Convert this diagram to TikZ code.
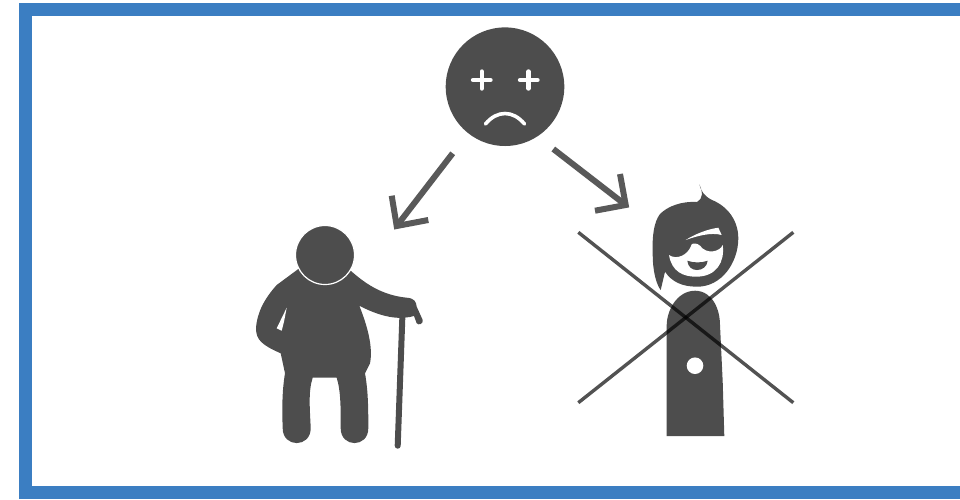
\documentclass[tikz,border=0pt]{standalone}
\usepackage{tikz}
\definecolor{framebl}{HTML}{3B7EC2}
\definecolor{figdark}{HTML}{4D4D4D}
\definecolor{arrowgr}{HTML}{595959}
\tikzset{
  figure/.style={fill=figdark, draw=none},
  whitepart/.style={fill=white, draw=none},
  bigarrow/.style={draw=arrowgr, line width=6pt, line join=miter},
  crossline/.style={draw=black, opacity=0.68, line width=3.4pt},
  feature/.style={draw=white, line width=4.4pt}
}
\begin{document}
\begin{tikzpicture}[x=1pt, y=-1pt]
  \useasboundingbox (0,0) rectangle (960,499);
  \draw[framebl, line width=13pt] (960,9) -- (25.5,9) -- (25.5,492.5) -- (960,492.5);

  \node[figure, circle, inner sep=0pt, minimum size=118.6pt] (face) at (505,86.7) {};
  \draw[feature, line cap=round] (473,80) -- (490.5,80);
  \draw[feature, line cap=round] (481.7,71.5) -- (481.7,88.5);
  \draw[feature, line cap=round] (520,80) -- (537.5,80);
  \draw[feature, line cap=round] (528.5,71.5) -- (528.5,88.5);
  \draw[feature, line width=3.6pt, line cap=round] (485.5,124) .. controls (497,110) and (513,110) .. (524.5,124);

  \coordinate (leftstart) at (452.7,153.3);
  \coordinate (lefttip) at (396.7,226);
  \coordinate (leftbarba) at (391.7,195.7);
  \coordinate (leftbarbb) at (428.3,220);
  \coordinate (rightstart) at (553.3,149);
  \coordinate (righttip) at (625.7,205);
  \coordinate (rightbarba) at (620,174);
  \coordinate (rightbarbb) at (595,210.7);
  \draw[bigarrow] (leftstart) -- (lefttip);
  \draw[bigarrow] (leftbarba) -- (lefttip) -- (leftbarbb);
  \draw[bigarrow] (rightstart) -- (righttip);
  \draw[bigarrow] (rightbarba) -- (righttip) -- (rightbarbb);

  \fill[figure] (298.3,269) -- (351,271)
    .. controls (363.3,281.7) and (380,295) .. (406.7,297.7)
    .. controls (415,298.3) and (416,302) .. (416.7,306.7)
    -- (422.7,320) .. controls (423.5,324) and (418.5,325.5) .. (416.7,323.3)
    -- (414,316) .. controls (403.3,319) and (386.7,320) .. (359.3,305.7)
    .. controls (368.3,328.3) and (373,348) .. (370,363.3)
    -- (365,373.3) .. controls (368.3,391.7) and (368.3,410) .. (368.3,428.3)
    .. controls (368.3,448) and (340.7,448) .. (340.7,428.3)
    .. controls (340.7,410) and (341,391.7) .. (336.7,377.7)
    -- (312.7,377.7) .. controls (308,391.7) and (310,410) .. (310.7,428.3)
    .. controls (310.7,448) and (282.7,448) .. (282.7,428.3)
    .. controls (282,410) and (282,391) .. (285,373.3)
    -- (280.7,353.3) .. controls (262,345) and (256,340) .. (256,328.3)
    .. controls (257,312) and (265,298) .. (276.7,285)
    -- cycle;
  \fill[whitepart] (286.7,307.7) -- (276.7,328.3) -- (281.7,330.7) -- (284,321.7) -- cycle;
  \draw[figdark, line width=6pt, line cap=round] (402.3,318.3) -- (397.7,445.7);
  \node[figure, circle, draw=white, line width=1.2pt, inner sep=0pt, minimum size=59pt] (oldhead) at (325,255) {};

  \fill[figure] (666.7,436) -- (724.3,436) -- (722.7,381.7) -- (720,325)
    .. controls (720,310) and (713,291) .. (695,290.7)
    .. controls (677,291) and (667,310) .. (666.7,325) -- cycle;
  \node[whitepart, circle, inner sep=0pt, minimum size=16.6pt] (bodydot) at (695,365.7) {};

  \fill[figure] (699.3,184.3) .. controls (701,191) and (704,196) .. (712,200)
    .. controls (727,206) and (738.3,220) .. (738.3,238.3)
    .. controls (738.3,262) and (722,287) .. (696.7,286.7)
    .. controls (682,286.5) and (672,282) .. (665,271.7)
    -- (660.7,290) .. controls (656,284) and (652.7,270) .. (652.7,255)
    .. controls (652,235) and (654,222) .. (660,214)
    .. controls (668,206) and (682,201) .. (697,202)
    .. controls (703,199) and (703,192) .. (699.3,184.3) -- cycle;
  \fill[whitepart] (669,255) .. controls (671.7,271.7) and (683.3,276.7) .. (696,276.7)
    .. controls (716.7,276.7) and (725,261.7) .. (722.7,245)
    .. controls (720,251.7) and (706.7,255) .. (700,245.7)
    .. controls (697,243) and (693,243) .. (691.7,244.3)
    .. controls (688,256) and (676,260) .. (669,255) -- cycle;
  \fill[whitepart] (685.7,240) .. controls (695,234) and (708,229) .. (718.3,227.7)
    -- (721.7,235) .. controls (711,232) and (697,236) .. (685.7,240) -- cycle;
  \fill[figure] (687.3,260.7) .. controls (694,263) and (701,263) .. (707.7,260.7)
    .. controls (707,267) and (702,270) .. (697,270)
    .. controls (692,270) and (688,267) .. (687.3,260.7) -- cycle;

  \coordinate (crossa) at (578.3,232.3);
  \coordinate (crossb) at (793.3,402.7);
  \coordinate (crossc) at (793.3,232.3);
  \coordinate (crossd) at (578.3,402.7);
  \draw[crossline] (crossa) -- (crossb);
  \draw[crossline] (crossc) -- (crossd);
\end{tikzpicture}
\end{document}
